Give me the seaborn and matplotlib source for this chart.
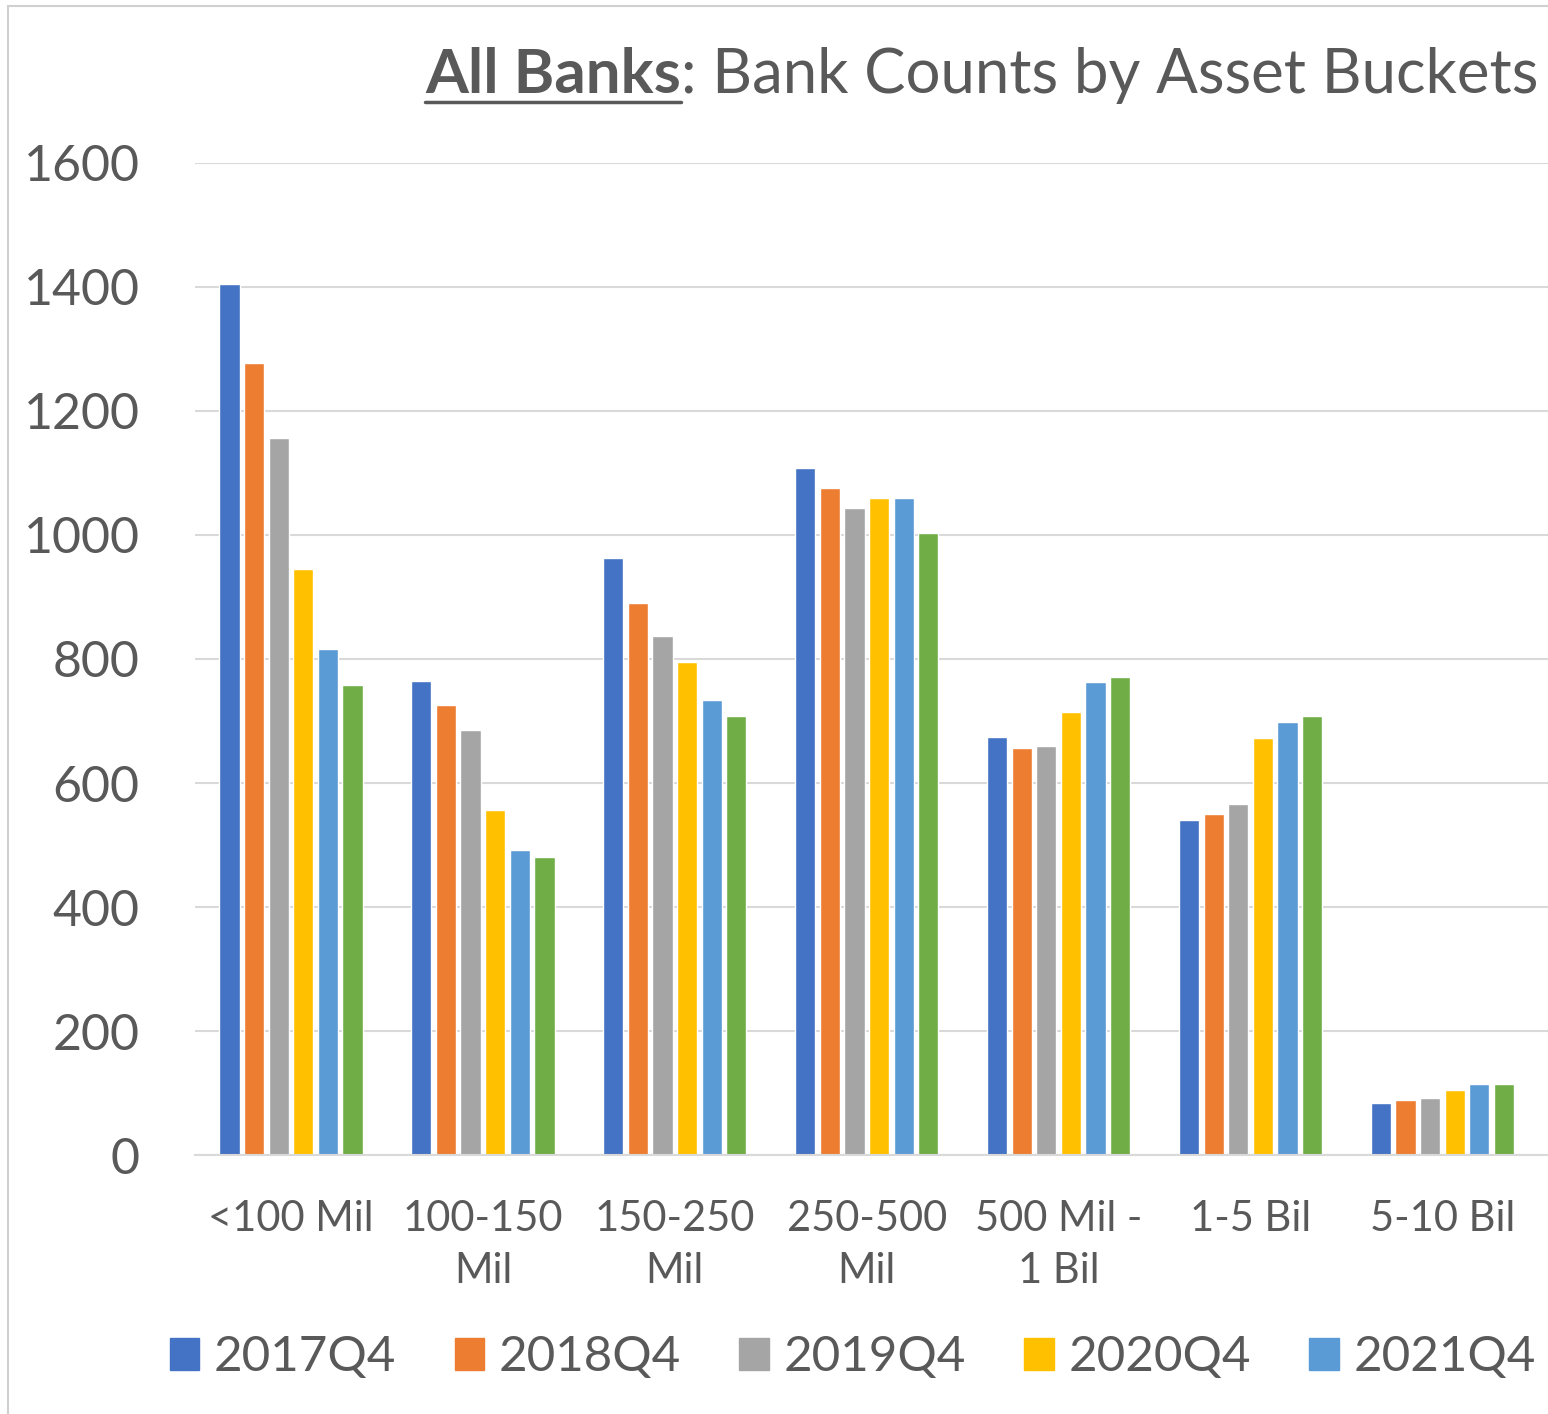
import numpy as np
import pandas as pd
import seaborn as sns
import matplotlib
import matplotlib.pyplot as plt
from matplotlib.lines import Line2D
from matplotlib.patches import Rectangle

# data
buckets = ['<100 Mil', '100-150\nMil', '150-250\nMil', '250-500\nMil',
           '500 Mil -\n1 Bil', '1-5 Bil', '5-10 Bil']
periods = ['2017Q4', '2018Q4', '2019Q4', '2020Q4', '2021Q4', '2022Q4']
q2017 = [1405, 765, 963, 1108, 674, 540, 85]
q2018 = [1277, 726, 890, 1076, 656, 550, 89]
q2019 = [1156, 685, 837, 1044, 660, 566, 92]
q2020 = [945, 556, 795, 1060, 715, 673, 105]
q2021 = [816, 492, 734, 1060, 763, 698, 115]
q2022 = [758, 481, 708, 1003, 771, 708, 115]
colors = ['#4472C4', '#ED7D31', '#A5A5A5', '#FFC000', '#5B9BD5', '#70AD47']

rows = []
for p, vals in zip(periods, [q2017, q2018, q2019, q2020, q2021, q2022]):
    for b, v in zip(buckets, vals):
        rows.append({'bucket': b, 'period': p, 'count': v})
df = pd.DataFrame(rows)

sns.set_style('white')
plt.rcParams['font.family'] = ['Lato', 'DejaVu Sans']
txt = '#595959'

fig = plt.figure(figsize=(15.48, 14.14), dpi=100)
ax = fig.add_axes([0.126, 0.183, 0.874, 0.702])

sns.barplot(data=df, x='bucket', y='count', hue='period', order=buckets,
            hue_order=periods, palette=colors, width=0.77, gap=0.18,
            saturation=1, ax=ax, legend=False)

ax.set_ylim(0, 1600)
ax.set_xlim(-0.5, 6.55)
ax.set_yticks(range(0, 1601, 200))
ax.yaxis.grid(True, color='#d9d9d9', lw=1.5)
ax.set_axisbelow(True)
for s in ['left', 'right', 'top']:
    ax.spines[s].set_visible(False)
ax.spines['bottom'].set_color('#d9d9d9')
ax.spines['bottom'].set_linewidth(1.5)
ax.set_xlabel('')
ax.set_ylabel('')
ax.tick_params(axis='y', labelsize=36, colors=txt, length=0, pad=40)
ax.tick_params(axis='x', labelsize=30, colors=txt, length=0, pad=32)
for t in ax.get_xticklabels():
    t.set_linespacing(1.45)

# legend, only the first five entries fit
handles = [Rectangle((0, 0), 1, 1, color=c) for c in colors[:5]]
fig.legend(handles, periods[:5], loc='center', ncol=5,
           bbox_to_anchor=(0.551, 0.04), frameon=False, fontsize=35.5,
           labelcolor=txt, handlelength=0.6, handleheight=0.62,
           handletextpad=0.3, columnspacing=1.18)

# title: bold underlined part + normal part, right aligned
fig.canvas.draw()
r = fig.canvas.get_renderer()
t2 = fig.text(0.994, 0.934, ': Bank Counts by Asset Buckets', ha='right',
              va='baseline', fontsize=44.5, color=txt)
bb = t2.get_window_extent(r)
x0 = bb.x0 / fig.bbox.width
t1 = fig.text(x0, 0.934, 'All Banks', ha='right', va='baseline',
              fontsize=44.5, fontweight='bold', color=txt)
bb1 = t1.get_window_extent(r)
fig.add_artist(Line2D([bb1.x0 / fig.bbox.width, bb1.x1 / fig.bbox.width],
                      [0.928, 0.928], color=txt, lw=2.5))

# chart border
fig.add_artist(Rectangle((0.005, -0.01), 1.1, 1.006, fill=False,
                         ec='#d0d0d0', lw=1.5, transform=fig.transFigure))

fig.savefig('out.png', dpi=100)
